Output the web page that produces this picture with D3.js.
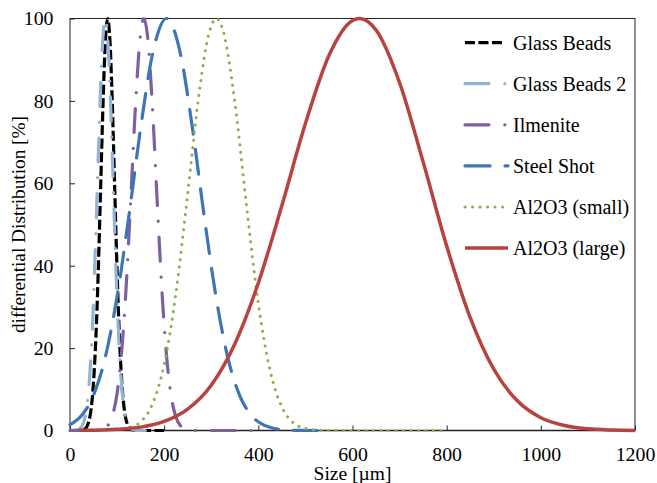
<!DOCTYPE html>
<html>
<head>
<meta charset="utf-8">
<script src="https://cdn.jsdelivr.net/npm/d3@7"></script>
<style>
  html, body { margin: 0; padding: 0; background: #fff; }
  svg { display: block; }
  text { font-family: "Liberation Serif", "Times New Roman", serif; fill: #000; }
</style>
</head>
<body>
<svg id="chart" width="657" height="483"></svg>
<script>
// Particle size distributions (size in µm, differential distribution in %)
const glassBeadsSize = [0, 20, 30, 40, 45, 50, 55, 60, 65, 70, 75, 80, 85, 90, 95, 100, 105, 110, 115, 120, 130, 140, 150, 175, 200];
const glassBeadsDist = [0, 0.02, 0.26, 2.2, 5.4, 11.8, 22.6, 38.6, 58.6, 78.8, 94.2, 100, 94.2, 78.8, 58.6, 38.6, 22.6, 11.8, 5.4, 2.2, 0.26, 0.02, 0, 0, 0];

const glassBeads2Size = [0, 10, 20, 30, 40, 45, 50, 55, 60, 65, 70, 75, 80, 85, 90, 95, 100, 105, 110, 120, 130, 140, 150, 160];
const glassBeads2Dist = [0, 0.04, 0.39, 2.4, 10.5, 19.1, 31.7, 48.0, 66.2, 83.2, 95.5, 100, 95.5, 83.2, 66.2, 48.0, 31.7, 19.1, 10.5, 2.4, 0.39, 0.04, 0, 0];

const ilmeniteSize = [0, 40, 60, 80, 90, 100, 110, 120, 130, 140, 150, 157, 165, 175, 185, 195, 205, 215, 225, 235, 250, 275, 300, 350, 400];
const ilmeniteDist = [0, 0, 0.1, 1.2, 3.6, 9.0, 19.5, 36.3, 58.3, 80.8, 96.4, 100, 95.4, 78.7, 56.0, 34.4, 18.2, 8.3, 3.3, 1.1, 0.17, 0, 0, 0, 0];

const steelShotSize = [0, 25, 50, 75, 100, 125, 150, 175, 205, 235, 260, 285, 310, 335, 360, 385, 410, 435, 460, 490, 525];
const steelShotDist = [1.4, 3.7, 8.6, 17.8, 32.5, 52.0, 73.4, 91.2, 100, 91.2, 73.4, 52.0, 32.5, 17.8, 8.6, 3.7, 1.4, 0.46, 0.13, 0.02, 0];

const aluminaSmallSize = [130, 150, 175, 200, 225, 250, 275, 295, 311, 325, 350, 375, 400, 425, 450, 475, 500, 525, 550, 600, 650, 700, 750, 800];
const aluminaSmallDist = [0.77, 2.1, 6.4, 16.0, 33.3, 57.5, 82.5, 96.3, 100, 97.1, 79.8, 54.4, 30.8, 14.5, 5.7, 1.8, 0.5, 0.1, 0.02, 0, 0, 0, 0, 0];

const aluminaLargeSize = [20, 50, 100, 150, 200, 250, 300, 350, 400, 450, 500, 550, 600, 615, 650, 700, 750, 800, 850, 900, 950, 1000, 1050, 1100, 1150, 1200];
const aluminaLargeDist = [0.04, 0.08, 0.28, 0.82, 2.2, 5.2, 11.0, 21.0, 35.8, 54.6, 74.5, 91.0, 99.5, 100, 97.2, 84.4, 65.2, 44.8, 27.4, 14.9, 7.2, 3.1, 1.2, 0.4, 0.12, 0.03];

const seriesNames = ["Glass Beads", "Glass Beads 2", "Ilmenite", "Steel Shot", "Al2O3 (small)", "Al2O3 (large)"];
const xTickValues = [0, 200, 400, 600, 800, 1000, 1200];
const yTickValues = [0, 20, 40, 60, 80, 100];

const series = [
  { name: seriesNames[0], x: glassBeadsSize, y: glassBeadsDist, color: "#000000", width: 3.2, dash: "10,3.5", cap: "butt" },
  { name: seriesNames[1], x: glassBeads2Size, y: glassBeads2Dist, color: "#95B3D7", width: 3.2, dash: "24,15.8,0.1,15.8", cap: "round" },
  { name: seriesNames[2], x: ilmeniteSize, y: ilmeniteDist, color: "#7D60A0", width: 3.2, dash: "24,15.8,0.1,15.8", cap: "round" },
  { name: seriesNames[3], x: steelShotSize, y: steelShotDist, color: "#3F75B6", width: 3.2, dash: "25,15", cap: "round" },
  { name: seriesNames[4], x: aluminaSmallSize, y: aluminaSmallDist, color: "#8DB04A", width: 3, dash: "0.1,7.4", cap: "round" },
  { name: seriesNames[5], x: aluminaLargeSize, y: aluminaLargeDist, color: "#B8423F", width: 3.5, dash: null, cap: "butt" }
];

const svg = d3.select("#chart");
const plot = { left: 70, right: 635, top: 18.5, bottom: 430.5 };

const x = d3.scaleLinear().domain([0, 1200]).range([plot.left, plot.right]);
const y = d3.scaleLinear().domain([0, 100]).range([plot.bottom, plot.top]);

// Axes with inward ticks
const xAxis = d3.axisBottom(x).tickValues(xTickValues).tickSizeInner(-5).tickSizeOuter(0).tickPadding(16.4).tickFormat(d3.format("d"));
const yAxis = d3.axisLeft(y).tickValues(yTickValues).tickSizeInner(-5).tickSizeOuter(0).tickPadding(16.5).tickFormat(d3.format("d"));

const gx = svg.append("g").attr("transform", `translate(0,${plot.bottom})`).call(xAxis);
const gy = svg.append("g").attr("transform", `translate(${plot.left},0)`).call(yAxis);
[gx, gy].forEach(g => {
  g.select(".domain").remove();
  g.selectAll(".tick line").attr("stroke", "#222").attr("stroke-width", 1);
  g.selectAll(".tick text").style("font-family", '"Liberation Serif", "Times New Roman", serif').style("font-size", "19.8px").attr("fill", "#000");
});

// Plot frame
svg.append("rect")
  .attr("x", plot.left).attr("y", plot.top)
  .attr("width", plot.right - plot.left).attr("height", plot.bottom - plot.top)
  .attr("fill", "none").attr("stroke", "#222").attr("stroke-width", 1);
svg.append("line")
  .attr("x1", plot.left).attr("x2", plot.right)
  .attr("y1", plot.bottom).attr("y2", plot.bottom)
  .attr("stroke", "#222").attr("stroke-width", 1.4);

// Distribution curves
const line = d3.line().x(d => x(d[0])).y(d => y(d[1])).curve(d3.curveMonotoneX);
series.forEach(s => {
  const pts = s.x.map((v, i) => [v, s.y[i]]);
  svg.append("path")
    .datum(pts)
    .attr("d", line)
    .attr("fill", "none")
    .attr("stroke", s.color)
    .attr("stroke-width", s.width)
    .attr("stroke-linecap", s.cap)
    .attr("stroke-linejoin", "round")
    .attr("stroke-dasharray", s.dash);
});

// Legend
const legend = svg.append("g");
series.forEach((s, i) => {
  const cy = 42.6 + i * 41.1;
  legend.append("line")
    .attr("x1", 465).attr("x2", i === 0 ? 503 : 508)
    .attr("y1", cy).attr("y2", cy)
    .attr("stroke", s.color)
    .attr("stroke-width", s.width)
    .attr("stroke-linecap", s.cap)
    .attr("stroke-dasharray", s.dash);
  legend.append("text")
    .attr("x", 513).attr("y", cy)
    .attr("dy", "0.35em")
    .style("font-size", "20px")
    .text(s.name);
});

// Axis titles
svg.append("text")
  .attr("x", (plot.left + plot.right) / 2).attr("y", 480)
  .attr("text-anchor", "middle")
  .style("font-size", "19.5px")
  .text("Size [µm]");
svg.append("text")
  .attr("transform", `translate(25,${(plot.top + plot.bottom) / 2}) rotate(-90)`)
  .attr("text-anchor", "middle")
  .style("font-size", "19.3px")
  .text("differential Distribution [%]");
</script>
</body>
</html>
